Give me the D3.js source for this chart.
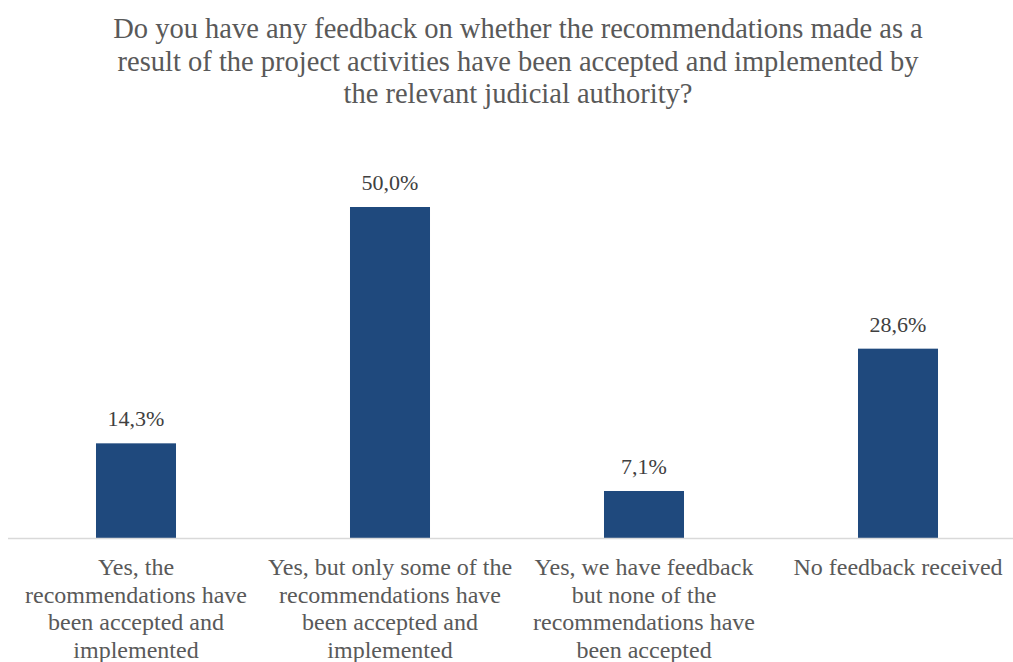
<!DOCTYPE html>
<html>
<head>
<meta charset="utf-8">
<script src="https://cdn.jsdelivr.net/npm/d3@7"></script>
<style>
  html, body { margin: 0; padding: 0; background: #fff; }
  svg { display: block; }
</style>
</head>
<body>
<svg id="chart" width="1013" height="662"></svg>
<script>
// Survey answers and their shares (%)
const titleLines = [
  "Do you have any feedback on whether the recommendations made as a",
  "result of the project activities have been accepted and implemented by",
  "the relevant judicial authority?"
];
const categories = [
  "Yes, the recommendations have been accepted and implemented",
  "Yes, but only some of the recommendations have been accepted and implemented",
  "Yes, we have feedback but none of the recommendations have been accepted",
  "No feedback received"
];
// Line breaks used for each category label
const categoryLines = [
  ["Yes, the", "recommendations have", "been accepted and", "implemented"],
  ["Yes, but only some of the", "recommendations have", "been accepted and", "implemented"],
  ["Yes, we have feedback", "but none of the", "recommendations have", "been accepted"],
  ["No feedback received"]
];
const values = [14.3, 50.0, 7.1, 28.6];

const svg = d3.select("#chart");
const width = 1013, height = 662;
const font = "'Liberation Serif', 'Times New Roman', serif";

// Title
svg.append("g")
  .selectAll("text")
  .data(titleLines)
  .join("text")
  .attr("x", 518)
  .attr("y", (d, i) => 38 + i * 32.5)
  .attr("text-anchor", "middle")
  .attr("font-family", font)
  .attr("font-size", 28.5)
  .attr("fill", "#595959")
  .text(d => d);

const x = d3.scaleBand()
  .domain(categories)
  .range([9, 1025])
  .paddingInner(0.685)
  .paddingOuter(0.3425);

const y = d3.scaleLinear()
  .domain([0, 50])
  .range([538, 207]);

// Bars
svg.append("g")
  .selectAll("rect")
  .data(values)
  .join("rect")
  .attr("x", (d, i) => x(categories[i]))
  .attr("y", d => y(d))
  .attr("width", x.bandwidth())
  .attr("height", d => y(0) - y(d))
  .attr("fill", "#1f497d");

// Value labels
const fmt = v => d3.format(".1f")(v).replace(".", ",") + "%";
svg.append("g")
  .selectAll("text")
  .data(values)
  .join("text")
  .attr("x", (d, i) => x(categories[i]) + x.bandwidth() / 2)
  .attr("y", d => y(d) - 17)
  .attr("text-anchor", "middle")
  .attr("font-family", font)
  .attr("font-size", 22)
  .attr("fill", "#404040")
  .text(fmt);

// Category axis
const axis = svg.append("g")
  .attr("transform", `translate(0,${y(0)})`)
  .call(d3.axisBottom(x).tickSize(0).tickFormat(""));
axis.select(".domain").attr("stroke", "#d9d9d9").attr("stroke-width", 1.5)
  .attr("d", `M8,0.5H${width}`);

const labels = axis.selectAll(".tick")
  .append("text")
  .attr("font-family", font)
  .attr("font-size", 24)
  .attr("fill", "#595959")
  .attr("text-anchor", "middle");
labels.each(function(d) {
  const lines = categoryLines[categories.indexOf(d)];
  d3.select(this).selectAll("tspan")
    .data(lines)
    .join("tspan")
    .attr("x", 0)
    .attr("y", (l, i) => 37 + i * 27.7)
    .text(l => l);
});
</script>
</body>
</html>
